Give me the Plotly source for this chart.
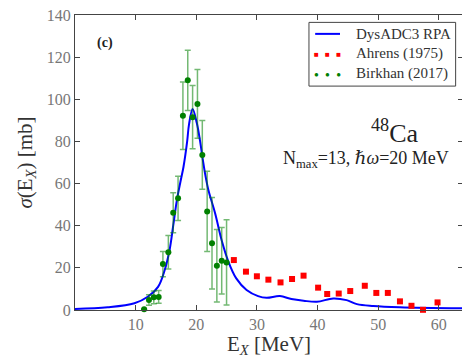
import plotly.graph_objects as go

# DysADC3 RPA curve (MeV, mb)
rpa_x = [0, 5.4, 9.8, 12.0, 13.7, 14.8, 15.6, 16.2, 16.8, 17.4, 17.9, 18.5, 18.8, 19.4,
         20.1, 20.6, 21.1, 21.5, 22.0, 23.1, 24.2, 25.3, 26.6, 28.3, 30.2, 31.6, 33.8,
         35.7, 37.7, 39.9, 42.6, 44.8, 46.5, 49.2, 53.6, 64.0]
rpa_y = [0.5, 1.3, 3.2, 6.3, 11.0, 19.0, 28.5, 40.0, 52.0, 61.0, 68.0, 80.0, 88.0, 95.4,
         88.6, 80.7, 71.0, 64.0, 57.0, 46.0, 33.0, 23.0, 15.0, 9.5, 6.6, 5.8, 6.6,
         5.2, 4.4, 3.9, 5.5, 4.7, 2.8, 1.9, 1.3, 0.8]

# Ahrens (1975)
ahrens_x = [26.2, 28.2, 30.0, 31.9, 33.9, 35.8, 37.7, 40.1, 41.6, 43.5, 45.4, 47.8,
            49.7, 51.6, 53.6, 55.5, 57.4, 59.8]
ahrens_y = [23.7, 18.2, 16.0, 14.4, 13.1, 14.7, 16.3, 10.6, 7.6, 7.8, 9.0, 11.5,
            8.1, 8.1, 4.1, 2.0, 0.1, 3.6]

# Birkhan (2017)
birk_x = [11.4, 12.2, 13.0, 13.8, 14.5, 15.4, 16.2, 17.0, 17.8, 18.6, 19.4, 20.2,
          21.0, 21.8, 22.6, 23.4, 24.2, 25.0]
birk_y = [0.3, 4.7, 6.0, 6.2, 21.8, 27.4, 46.2, 53.0, 92.2, 109.0, 91.5, 97.8,
          73.6, 46.8, 31.7, 21.0, 23.4, 22.6]
birk_err = [0.3, 2.5, 3.0, 3.0, 6.0, 8.0, 9.5, 10.5, 16.0, 14.3, 15.0, 16.3,
            16.3, 19.0, 21.7, 17.2, 15.8, 20.2]

x_ticks = [10, 20, 30, 40, 50, 60]
y_ticks = [0, 20, 40, 60, 80, 100, 120, 140]

SERIF = "Liberation Serif, DejaVu Serif, serif"

fig = go.Figure()

fig.add_trace(go.Scatter(
    x=rpa_x, y=rpa_y, mode="lines", line=dict(color="#0000ff", width=2, shape="spline"),
    name="DysADC3 RPA", showlegend=False,
))
fig.add_trace(go.Scatter(
    x=birk_x, y=birk_y, mode="markers",
    marker=dict(color="#008000", size=6),
    error_y=dict(type="data", array=birk_err, color="rgba(0,128,0,0.55)",
                 thickness=1.5, width=3),
    cliponaxis=False, showlegend=False,
))
fig.add_trace(go.Scatter(
    x=ahrens_x, y=ahrens_y, mode="markers",
    marker=dict(color="#ff0000", size=6, symbol="square"),
    cliponaxis=False, showlegend=False,
))

axis_common = dict(
    showline=True, linecolor="#444", linewidth=1, mirror="ticks",
    ticks="inside", ticklen=5, tickcolor="#444",
    showgrid=False, zeroline=False, automargin=False,
    ticklabeloverflow="allow",
    tickfont=dict(family=SERIF, size=16, color="#777"),
)

fig.update_xaxes(range=[0, 64], tickvals=x_ticks, **axis_common,
                 title=dict(text="E<sub><i>X</i></sub> [MeV]",
                            font=dict(family=SERIF, size=21, color="#333"), standoff=2))
fig.update_yaxes(range=[0, 140], tickvals=y_ticks, **axis_common,
                 title=dict(text="<i>σ</i>(E<sub><i>X</i></sub>) [mb]",
                            font=dict(family=SERIF, size=21, color="#333"), standoff=8))

# legend box drawn by hand, like the matplotlib one
lx0, lx1, ly0, ly1 = 0.603, 0.981, 0.759, 0.975
shapes = [
    dict(type="rect", xref="paper", yref="paper", x0=lx0, x1=lx1, y0=ly0, y1=ly1,
         line=dict(color="#444", width=1), fillcolor="white"),
    dict(type="line", xref="paper", yref="paper", x0=0.619, x1=0.683, y0=0.936, y1=0.936,
         line=dict(color="#0000ff", width=2)),
]
annotations = [
    dict(x=0.719, y=0.936, text="DysADC3 RPA"),
    dict(x=0.719, y=0.868, text="Ahrens (1975)"),
    dict(x=0.719, y=0.803, text="Birkhan (2017)"),
]
annotations = [dict(a, xref="paper", yref="paper", xanchor="left", yanchor="middle",
                    showarrow=False, font=dict(family=SERIF, size=15, color="#333"))
               for a in annotations]
annotations += [
    dict(x=0.651, y=0.868, text="■   ■   ■", font=dict(size=8, color="#ff0000")),
    dict(x=0.651, y=0.803, text="●   ●   ●", font=dict(size=8, color="#008000")),
]
for a in annotations[-2:]:
    a.update(xref="paper", yref="paper", xanchor="center", yanchor="middle", showarrow=False)

annotations += [
    dict(x=0.078, y=0.905, xref="paper", yref="paper", text="<b>(c)</b>", showarrow=False,
         xanchor="center", yanchor="middle", font=dict(family=SERIF, size=14, color="#222")),
    dict(x=0.826, y=0.605, xref="paper", yref="paper", showarrow=False,
         text="<sup>48</sup>Ca", xanchor="center", yanchor="middle",
         font=dict(family=SERIF, size=26, color="#222")),
    dict(x=0.749, y=0.51, xref="paper", yref="paper", showarrow=False,
         text="N<sub>max</sub>=13, <i>ℏω</i>=20 MeV", xanchor="center", yanchor="middle",
         font=dict(family=SERIF, size=18, color="#222")),
]

# the page body adds an 8px margin, so the figure is shrunk by that much
fig.update_layout(
    width=462, height=350,
    margin=dict(l=67, r=7, t=7, b=48),
    plot_bgcolor="white", paper_bgcolor="white",
    showlegend=False,
    shapes=shapes, annotations=annotations,
)

fig.write_html("out.html")
